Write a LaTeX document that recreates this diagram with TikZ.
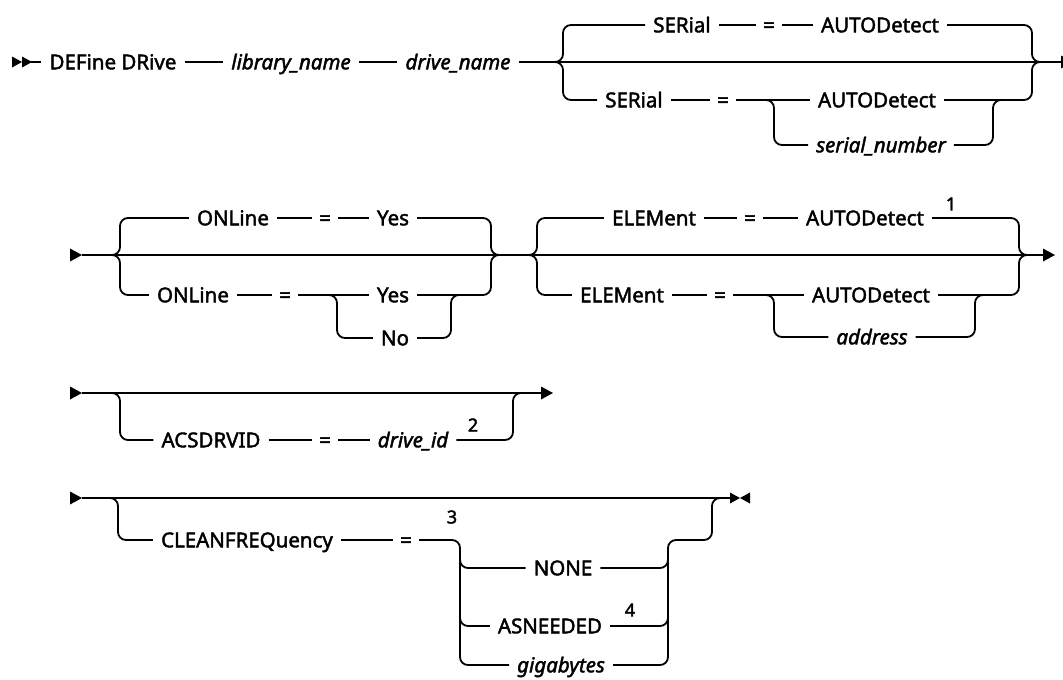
\documentclass[tikz,border=0pt]{standalone}
\usepackage{fontspec}
\setmainfont{Noto Sans}
\newfontfamily\railfont{Noto Sans}[FakeBold=2]
\usetikzlibrary{positioning,calc}
\tikzset{
  kw/.style={font=\railfont\fontsize{20.5}{24}\selectfont,text height=14.6pt,text depth=0pt,inner xsep=8pt,inner ysep=0pt},
  var/.style={kw,font=\railfont\fontsize{20.5}{24}\selectfont\itshape},
  eq/.style={kw,inner xsep=7pt},
  note/.style={font=\railfont\fontsize{18}{20}\selectfont,inner sep=0pt},
  rail/.style={line width=1.8pt,rounded corners=8pt}
}
\newcommand{\railtip}[2]{\fill (#1,#2-6.5) -- (#1+12,#2) -- (#1,#2+6.5) -- cycle;}
\newcommand{\railtipsmall}[2]{\fill (#1,#2-5.5) -- (#1+10,#2) -- (#1,#2+5.5) -- cycle;}
\newcommand{\railback}[2]{\fill (#1,#2-5.5) -- (#1-10,#2) -- (#1,#2+5.5) -- cycle;}

\begin{document}
\begin{tikzpicture}[x=1pt,y=-1pt]
\useasboundingbox (0,0) rectangle (1063,680);
\clip (0,0) rectangle (1063,680);

% first line
\railtipsmall{12}{62}
\railtipsmall{22}{62}
\coordinate (st1) at (22,62);
\node[kw] (def) at (113,62) {DEFine DRive};
\node[var] (lib) at (291,62) {library\_name};
\node[var] (drv) at (458,62) {drive\_name};
\coordinate (in1) at (555,62);
\coordinate (j1) at (563,62);
\node[kw] (ser1a) at (682,25) {SERial};
\node[eq] (eq1a) at (769,25) {=};
\node[kw] (auto1a) at (880,25) {AUTODetect};
\node[kw] (ser1b) at (634,100) {SERial};
\node[eq] (eq1b) at (723,100) {=};
\coordinate (s1) at (774,100);
\node[kw] (auto1b) at (877,100) {AUTODetect};
\node[var] (sn1) at (881,145) {serial\_number};
\coordinate (t1) at (993,100);
\coordinate (t1o) at (1001,100);
\coordinate (k1) at (1032,62);
\coordinate (out1) at (1040,62);
\coordinate (end1) at (1061,62);

\draw[rail] (st1) -- (def.west);
\draw[rail] (def.east) -- (lib.west);
\draw[rail] (lib.east) -- (drv.west);
\draw[rail] (drv.east) -- (end1);
\railtip{1061}{62}
\draw[rail] (in1) -- (j1) |- (ser1a.west);
\draw[rail] (ser1a.east) -- (eq1a.west);
\draw[rail] (eq1a.east) -- (auto1a.west);
\draw[rail] (auto1a.east) -| (k1) -- (out1);
\draw[rail] (in1) -- (j1) |- (ser1b.west);
\draw[rail] (ser1b.east) -- (eq1b.west);
\draw[rail] (eq1b.east) -- (auto1b.west);
\draw[rail] (eq1b.east) -- (s1) |- (sn1.west);
\draw[rail] (sn1.east) -| (t1) -- (t1o);
\draw[rail] (auto1b.east) -| (k1) -- (out1);

% second line
\railtip{70}{255}
\coordinate (st2) at (82,255);
\coordinate (end2) at (1043,255);
\draw[rail] (st2) -- (end2);
\railtip{1043}{255}
\coordinate (in2) at (112,255);
\coordinate (j2) at (120,255);
\node[kw] (onl2a) at (233,218) {ONLine};
\node[eq] (eq2a) at (325,218) {=};
\node[kw] (yes2a) at (393,218) {Yes};
\node[kw] (onl2b) at (193,295) {ONLine};
\node[eq] (eq2b) at (285,295) {=};
\coordinate (s2) at (337,295);
\node[kw] (yes2b) at (393,295) {Yes};
\node[kw] (no2) at (395,338) {No};
\coordinate (t2) at (451,295);
\coordinate (t2o) at (459,295);
\coordinate (k2) at (491,255);
\coordinate (out2) at (499,255);

\draw[rail] (in2) -- (j2) |- (onl2a.west);
\draw[rail] (onl2a.east) -- (eq2a.west);
\draw[rail] (eq2a.east) -- (yes2a.west);
\draw[rail] (yes2a.east) -| (k2) -- (out2);
\draw[rail] (in2) -- (j2) |- (onl2b.west);
\draw[rail] (onl2b.east) -- (eq2b.west);
\draw[rail] (eq2b.east) -- (yes2b.west);
\draw[rail] (eq2b.east) -- (s2) |- (no2.west);
\draw[rail] (no2.east) -| (t2) -- (t2o);
\draw[rail] (yes2b.east) -| (k2) -- (out2);

\coordinate (in3) at (529,255);
\coordinate (j3) at (537,255);
\node[kw] (ele3a) at (654,218) {ELEMent};
\node[eq] (eq3a) at (750,218) {=};
\node[kw] (auto3a) at (865,218) {AUTODetect};
\node[note] (n1) at (951,204) {1};
\node[kw] (ele3b) at (622,295) {ELEMent};
\node[eq] (eq3b) at (720,295) {=};
\coordinate (s3) at (774,295);
\node[kw] (auto3b) at (871,295) {AUTODetect};
\node[var] (addr3) at (872,337) {address};
\coordinate (t3) at (975,295);
\coordinate (t3o) at (983,295);
\coordinate (k3) at (1019,255);
\coordinate (out3) at (1027,255);

\draw[rail] (in3) -- (j3) |- (ele3a.west);
\draw[rail] (ele3a.east) -- (eq3a.west);
\draw[rail] (eq3a.east) -- (auto3a.west);
\draw[rail] (auto3a.east) -| (k3) -- (out3);
\draw[rail] (in3) -- (j3) |- (ele3b.west);
\draw[rail] (ele3b.east) -- (eq3b.west);
\draw[rail] (eq3b.east) -- (auto3b.west);
\draw[rail] (eq3b.east) -- (s3) |- (addr3.west);
\draw[rail] (addr3.east) -| (t3) -- (t3o);
\draw[rail] (auto3b.east) -| (k3) -- (out3);

% third line
\railtip{70}{393}
\coordinate (st3) at (82,393);
\coordinate (end3) at (541,393);
\draw[rail] (st3) -- (end3);
\railtip{541}{393}
\coordinate (in4) at (112,393);
\coordinate (j4) at (120,393);
\node[kw] (acs) at (211,440) {ACSDRVID};
\node[eq] (eq4) at (325,440) {=};
\node[var] (did) at (413,440) {drive\_id};
\node[note] (n2) at (473,425) {2};
\coordinate (k4) at (513,393);
\coordinate (out4) at (521,393);

\draw[rail] (in4) -- (j4) |- (acs.west);
\draw[rail] (acs.east) -- (eq4.west);
\draw[rail] (eq4.east) -- (did.west);
\draw[rail] (did.east) -| (k4) -- (out4);

% fourth line
\railtip{70}{498}
\coordinate (st4) at (82,498);
\coordinate (fin) at (730,498);
\draw[rail] (st4) -- (fin);
\railtipsmall{730}{498}
\railback{750}{498}
\coordinate (in5) at (110,498);
\coordinate (j5) at (118,498);
\node[kw] (cln) at (247,540) {CLEANFREQuency};
\node[eq] (eq5) at (406,540) {=};
\node[note] (n3) at (452,517) {3};
\coordinate (s5) at (460,540);
\coordinate (sn5) at (460,558);
\coordinate (sa5) at (460,616);
\node[kw] (none) at (563,568) {NONE};
\node[kw] (asn) at (550,626) {ASNEEDED};
\node[note] (n4) at (630,610) {4};
\node[var] (giga) at (561,665) {gigabytes};
\coordinate (tn5) at (668,558);
\coordinate (ta5) at (668,616);
\coordinate (t5) at (668,540);
\coordinate (u5) at (712,540);
\coordinate (v5) at (712,498);
\coordinate (w5) at (720,498);

\draw[rail] (in5) -- (j5) |- (cln.west);
\draw[rail] (cln.east) -- (eq5.west);
\draw[rail] (eq5.east) -- (s5) |- (giga.west);
\draw[rail] (sn5) |- (none.west);
\draw[rail] (sa5) |- (asn.west);
\draw[rail] (giga.east) -| (t5) -- (u5) -- (v5) -- (w5);
\draw[rail] (none.east) -| (tn5);
\draw[rail] (asn.east) -| (ta5);

\end{tikzpicture}
\end{document}
